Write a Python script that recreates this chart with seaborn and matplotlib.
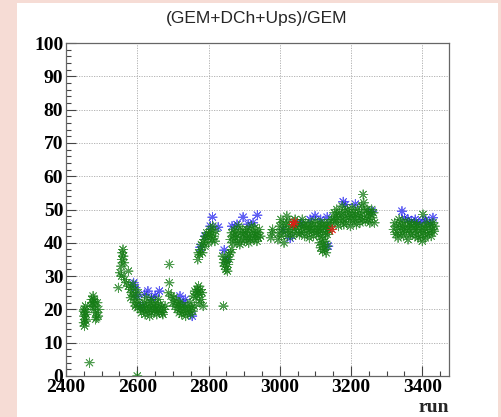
"""
Recreation of the (GEM+DCh+Ups)/GEM ratio versus run number chart.
"""
import matplotlib
matplotlib.use('Agg')
import matplotlib.pyplot as plt
from matplotlib.ticker import MultipleLocator
from matplotlib.patches import Rectangle
import seaborn as sns
import pandas as pd

# Green series: (run, ratio)
green_runs = [
    2450, 2451, 2452, 2453, 2454, 2455, 2456, 2452, 2457, 2450,
    2466, 2470, 2472, 2474, 2476, 2478, 2480, 2482, 2484, 2486, 2488, 2490, 2492, 2478, 2483,
    2600,
    2547, 2552, 2555, 2557, 2558, 2560, 2561, 2563, 2556, 2575, 2565,
    2570, 2575, 2580, 2585, 2588, 2590, 2592, 2595, 2598, 2600, 2602, 2605, 2582, 2594, 2610,
    2612, 2615, 2618, 2620, 2622, 2625, 2628, 2630, 2632, 2635, 2638, 2640, 2642, 2645, 2648,
    2650, 2652, 2655, 2658, 2660, 2662, 2665, 2668, 2670, 2672, 2675, 2678, 2640, 2625, 2660,
    2690, 2690, 2688,
    2695, 2700, 2703, 2706, 2710, 2712, 2715, 2718, 2720, 2722, 2725, 2728, 2730, 2733, 2736,
    2740, 2742, 2745, 2748, 2750, 2753, 2756, 2760,
    2758, 2762, 2765, 2768, 2770, 2772, 2775, 2778, 2780, 2776, 2782, 2785,
    2770, 2772, 2775, 2778, 2780, 2783, 2785, 2788, 2790, 2792, 2795, 2798, 2800, 2802, 2805,
    2808, 2810, 2812, 2815, 2818, 2820,
    2840, 2843, 2845, 2847, 2849, 2851, 2853, 2855, 2857, 2859, 2862, 2865,
    2842,
    2862, 2865, 2868, 2870, 2872, 2875, 2878, 2880, 2882, 2885, 2888, 2890, 2893, 2896, 2898,
    2900, 2903, 2906, 2908, 2910, 2913, 2916, 2918, 2920, 2923, 2926, 2928, 2930, 2933, 2936,
    2938, 2940, 2943, 2946,
    2978, 2975, 2980,
    2995, 2998, 3000, 3003, 3005, 3008, 3010, 3012, 3015, 3018, 3020, 3022, 3025, 3028, 3030,
    3033, 3036, 3040, 3043,
    3045, 3048, 3050, 3053, 3055, 3058, 3060, 3063, 3065, 3068, 3070, 3073, 3075, 3078, 3080,
    3083, 3085, 3088, 3090, 3093, 3095, 3098, 3100, 3103, 3105, 3108, 3110, 3113, 3115, 3118,
    3120, 3123, 3125, 3128, 3130, 3133, 3135, 3138, 3140, 3143, 3145,
    3112, 3115, 3118, 3120, 3122, 3125, 3128, 3130, 3133,
    3150, 3153, 3155, 3158, 3160, 3163, 3165, 3168, 3170, 3173, 3175, 3178, 3180, 3183, 3185,
    3188, 3190, 3193, 3195, 3198, 3200, 3203, 3205, 3208, 3210, 3213, 3215, 3218, 3220, 3223,
    3225, 3228, 3230, 3233, 3234, 3236, 3238, 3240, 3243, 3245, 3248, 3250, 3253, 3255, 3258,
    3260, 3263, 3266,
    3320, 3323, 3325, 3328, 3330, 3332, 3335, 3338, 3340, 3343, 3345, 3348, 3350, 3353, 3355,
    3358, 3360, 3363, 3365, 3368, 3370, 3373, 3375, 3378, 3380, 3383, 3385, 3388, 3390, 3393,
    3395, 3398, 3400, 3402, 3403, 3405, 3408, 3410, 3413, 3415, 3418, 3420, 3423, 3425, 3428,
    3430, 3433, 3435,
]
green_ratio = [
    16, 18, 20, 17, 19, 21, 16.5, 15, 18.5, 19.5,
    4, 21, 23, 22, 24, 20, 22.5, 21, 19, 17.5, 22, 18, 20, 23, 17,
    0,
    26.5, 31, 33, 35, 37, 38, 36, 34, 30, 31.5, 29,
    28, 27, 26, 25, 27.5, 24, 22, 21, 23, 20.5, 25, 22, 23.5, 26, 20,
    19, 21, 20, 22, 18.5, 20.5, 19.5, 21.5, 20, 18, 22, 19, 20.5, 21, 19.5,
    20, 22, 18.5, 21, 20, 19, 21.5, 20.5, 19, 18.5, 20, 21, 23, 23.5, 23,
    33.5, 28, 25,
    24, 22, 23.5, 21, 22.5, 20, 21.5, 19, 22, 20.5, 18.5, 21, 19.5, 20, 18,
    21, 19, 20, 22, 18.5, 20.5, 19.5, 21,
    24, 25.5, 23.5, 26, 25, 27, 24.5, 26, 23, 22, 25, 21,
    35, 37, 36.5, 38, 39.5, 37, 40, 41, 39, 42, 43, 41.5, 40, 42.5, 44,
    43, 41, 45, 42, 40.5, 43.5,
    36, 34, 33, 35, 32, 34.5, 31.5, 33.5, 36.5, 35, 37, 38,
    21,
    41, 43, 40, 42, 44, 41.5, 43.5, 40, 42, 45, 39.5, 43, 41, 44, 42.5,
    40.5, 43, 41.5, 44, 42, 40, 43.5, 41, 45, 42, 43, 41, 44.5, 42.5, 40.5,
    43, 41.5, 44, 42,
    43, 41.5, 44,
    41, 43, 45, 47, 42, 44, 46, 40, 43.5, 45.5, 48, 42, 44, 46.5, 43,
    45, 42, 44, 47,
    45, 43, 46, 44.5, 42.5, 45.5, 43, 47, 44, 45, 42, 46, 44.5, 43, 45,
    41.5, 44, 46, 43.5, 45, 42, 44, 46.5, 43, 45, 42.5, 44, 46, 43.5, 45,
    42, 44.5, 46, 43, 45, 42.5, 44, 46, 43.5, 45, 47,
    40, 38.5, 41, 37.5, 39.5, 38, 40.5, 37, 39,
    47, 49, 46, 48, 50, 47.5, 45, 49, 46.5, 48.5, 51, 47, 45.5, 49.5, 48,
    46, 50, 47.5, 49, 45, 48, 50.5, 46.5, 49, 47, 48.5, 45.5, 50, 47.5, 49,
    46, 48, 51, 47, 54.5, 52, 49.5, 46.5, 48, 50, 47, 49, 46, 48.5, 50,
    47.5, 49, 46,
    44, 46, 42.5, 45, 43, 41.5, 47, 44.5, 46, 43, 45, 42, 44, 46.5, 43.5,
    45, 41, 44, 46, 42.5, 45, 43, 44.5, 46, 42, 44, 45.5, 41.5, 43.5, 45,
    42, 44, 40.5, 48.5, 43, 45, 41.5, 44, 46, 42.5, 44.5, 43, 45.5, 42, 44,
    46, 43.5, 45,
]

# Blue series
blue_runs = [
    2590, 2595, 2600, 2620, 2630, 2640, 2650, 2662, 2610, 2729, 2735, 2754, 2720,
    2777, 2790, 2811, 2827, 2805, 2844, 2852, 2866, 2880, 2897, 2911, 2925, 2937,
    3029, 3010, 3040, 3060, 3085, 3099, 3133, 3136, 3115, 3178, 3185, 3212, 3259,
    3343, 3350, 3360, 3370, 3380, 3390, 3400, 3410, 3420, 3430,
]
blue_ratio = [
    28, 26.5, 24, 24.5, 25.5, 23.5, 24, 25.5, 21, 22, 23, 18, 24,
    38.7, 42, 47.7, 44.7, 45, 37.8, 35, 45, 45.5, 47.7, 45.6, 46, 48.3,
    41.4, 44, 45.5, 46, 47, 48, 47.7, 39, 47, 52.3, 51.5, 51.6, 49.5,
    49.5, 47.5, 47, 46.5, 47, 46, 46.5, 47, 46, 47.5,
]

# Red series
red_runs = [3041, 3038, 3147]
red_ratio = [46.2, 45.5, 44]

colors = {'blue': '#2a2af0', 'green': '#157c15', 'red': '#f01414'}

df = pd.concat([
    pd.DataFrame({'run': blue_runs, 'ratio': blue_ratio, 'set': 'blue'}),
    pd.DataFrame({'run': green_runs, 'ratio': green_ratio, 'set': 'green'}),
    pd.DataFrame({'run': red_runs, 'ratio': red_ratio, 'set': 'red'}),
], ignore_index=True)

sns.set_style('ticks')
plt.rcParams['font.family'] = ['Liberation Serif', 'DejaVu Serif']

fig = plt.figure(figsize=(5.02, 4.17), dpi=100, facecolor='#f6dcd5')
fig.patches.append(Rectangle((17 / 502, 0), 481 / 502, 414 / 417,
                             transform=fig.transFigure, facecolor='white',
                             edgecolor='none', zorder=-10))
ax = fig.add_axes([66 / 502, 41 / 417, 383 / 502, 333 / 417])

sns.scatterplot(data=df, x='run', y='ratio', hue='set', palette=colors,
                marker=(8, 2, 0), s=45, linewidth=0.6, alpha=0.75,
                legend=False, ax=ax, zorder=3)

ax.set_xlim(2400, 3475)
ax.set_ylim(0, 100)
ax.xaxis.set_major_locator(MultipleLocator(200))
ax.xaxis.set_minor_locator(MultipleLocator(50))
ax.yaxis.set_major_locator(MultipleLocator(10))
ax.yaxis.set_minor_locator(MultipleLocator(2))
ax.tick_params(which='both', direction='in', colors='#444', labelcolor='black',
               labelsize=14, width=0.8)
ax.tick_params(which='major', length=7, pad=2)
ax.tick_params(which='minor', length=3.5)
for lab in ax.get_xticklabels() + ax.get_yticklabels():
    lab.set_fontweight('bold')

ax.grid(True, which='major', color='#aaaaaa', linestyle=(0, (1.5, 1.5)), linewidth=0.6)
ax.set_axisbelow(True)
for sp in ax.spines.values():
    sp.set_color('#666666')
    sp.set_linewidth(0.9)

ax.set_xlabel('')
ax.set_ylabel('')
fig.text(449 / 502, 5 / 417, 'run', ha='right', va='baseline',
         fontsize=14, fontweight='bold')
fig.text(257 / 502, 1 - 19 / 417, '(GEM+DCh+Ups)/GEM', ha='center', va='center',
         fontsize=12.5, family=['Liberation Sans', 'DejaVu Sans'])

fig.savefig('out.png', dpi=100, facecolor=fig.get_facecolor())
